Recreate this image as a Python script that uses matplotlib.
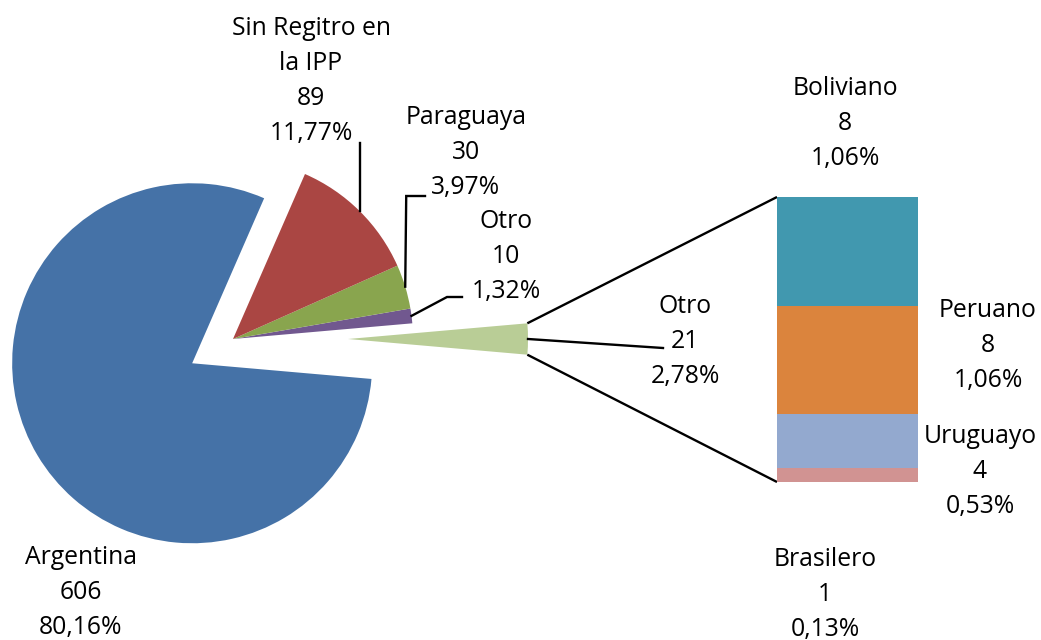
import matplotlib
matplotlib.use('Agg')
import matplotlib.pyplot as plt
import numpy as np

# ---- data ----
pie_names = ['Otro', 'Otro', 'Paraguaya', 'Sin Regitro en\nla IPP', 'Argentina']
pie_values = [21, 10, 30, 89, 606]
pie_colors = ['#B9CD96', '#71588F', '#89A54E', '#AA4643', '#4572A7']
bar_names = ['Brasilero', 'Uruguayo', 'Peruano', 'Boliviano']
bar_values = [1, 4, 8, 8]
bar_colors = ['#D19392', '#93A9CF', '#DB843D', '#4198AF']
total = sum(pie_values)

W, H = 1041, 640
FONT = 'Open Sans'
FS = 17.8
STEP = 35
LW = 1.7

fig = plt.figure(figsize=(W / 100, H / 100), dpi=100)
ax = fig.add_axes([0, 0, 1, 1])

center = (233, H - 339)
R = 180
explode = [115, 0, 0, 0, 47.5]
start = -360.0 * pie_values[0] / total / 2
wedges, _ = ax.pie(pie_values, colors=pie_colors, startangle=start,
                   counterclock=True, explode=explode, center=center,
                   radius=R, wedgeprops=dict(linewidth=0), frame=True)
ax.set_xlim(0, W)
ax.set_ylim(0, H)
ax.set_aspect('auto')
ax.axis('off')

# ---- bar of the "Otro" group ----
bax = fig.add_axes([777 / W, (H - 482) / H, 141 / W, 285 / H])
bottoms = np.concatenate([[0], np.cumsum(bar_values)[:-1]])
bax.bar([0] * len(bar_values), bar_values, bottom=bottoms, width=1,
        color=bar_colors, linewidth=0)
bax.set_xlim(-0.5, 0.5)
bax.set_ylim(0, sum(bar_values))
bax.axis('off')


def to_main(axes, pt):
    disp = axes.transData.transform(pt)
    return ax.transData.inverted().transform(disp)


def arc_point(w, ang=None):
    if ang is None:
        ang = 0.5 * (w.theta1 + w.theta2)
    cx, cy = w.center
    a = np.deg2rad(ang)
    return np.array([cx + w.r * np.cos(a), cy + w.r * np.sin(a)])


# connector lines from combined wedge to bar
wc = wedges[0]
p_low = arc_point(wc, wc.theta1)
p_high = arc_point(wc, wc.theta2)
b_bot = to_main(bax, (-0.5, 0))
b_top = to_main(bax, (-0.5, sum(bar_values)))
ax.plot([p_high[0], b_top[0]], [p_high[1], b_top[1]], color='black', lw=LW,
        solid_capstyle='butt')
ax.plot([p_low[0], b_bot[0]], [p_low[1], b_bot[1]], color='black', lw=LW,
        solid_capstyle='butt')


def fmt(v):
    return f"{v / total * 100:.2f}".replace('.', ',') + '%'


def label(x, y_first, name, value):
    lines = name.split('\n') + [str(value), fmt(value)]
    for i, s in enumerate(lines):
        ax.text(x, H - (y_first + i * STEP), s, ha='center', va='baseline',
                fontsize=FS, family=FONT, color='black')


def leader(pts):
    xs = [p[0] for p in pts]
    ys = [p[1] for p in pts]
    ax.plot(xs, ys, color='black', lw=LW, solid_joinstyle='miter')


# leader lines
p = arc_point(wedges[3])
leader([p, (p[0], H - 143)])
p = arc_point(wedges[2])
leader([p, (p[0] + 1, H - 196), (425, H - 196)])
p = arc_point(wedges[1])
leader([p, (447, H - 297), (462, H - 297)])
p = arc_point(wedges[0])
leader([p, (663, H - 348)])

# labels for pie
label(311, 35, pie_names[3], pie_values[3])
label(466, 124, pie_names[2], pie_values[2])
label(506, 228, pie_names[1], pie_values[1])
label(685, 313, pie_names[0], pie_values[0])
label(81, 564, pie_names[4], pie_values[4])

# labels for bar
label(845, 95, bar_names[3], bar_values[3])
label(988, 317, bar_names[2], bar_values[2])
label(980, 443, bar_names[1], bar_values[1])
label(825, 566, bar_names[0], bar_values[0])

fig.savefig('out.png', dpi=100, facecolor='white')
